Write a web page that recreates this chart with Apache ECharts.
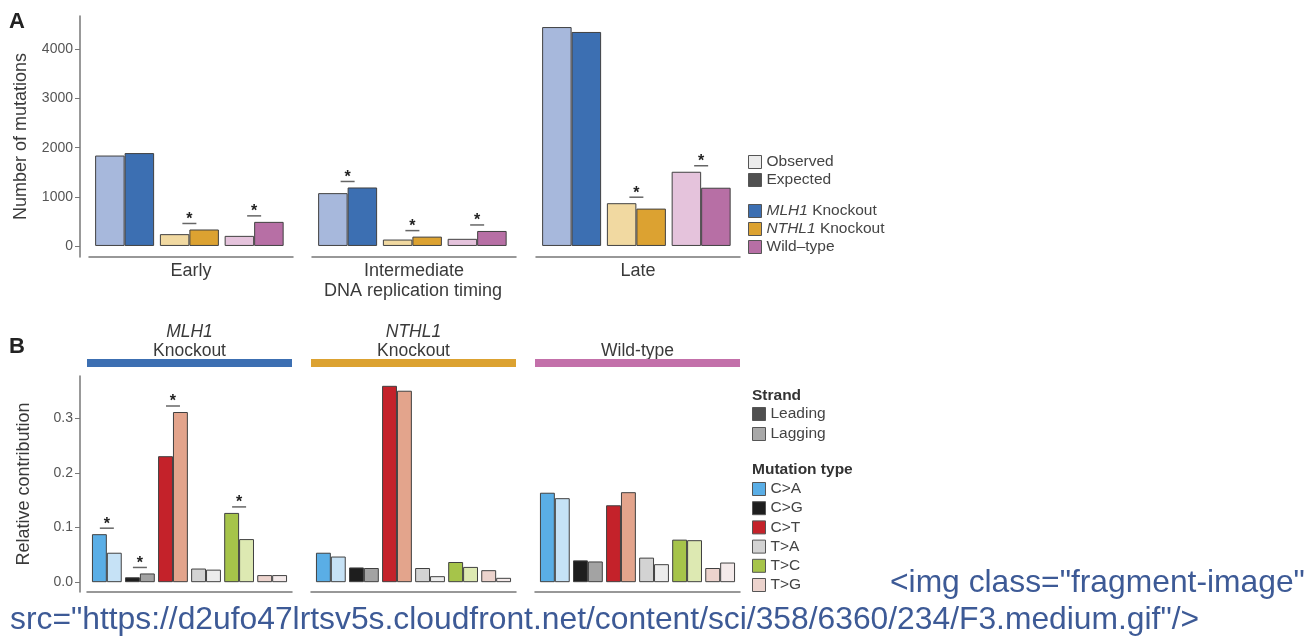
<!DOCTYPE html>
<html>
<head>
<meta charset="utf-8">
<script src="https://cdn.jsdelivr.net/npm/echarts@6/dist/echarts.min.js"></script>
<style>
html,body{margin:0;padding:0;background:#fff}
#main{width:1310px;height:637px}
</style>
</head>
<body>
<div id="main"></div>
<script>
// ---------- panel A : mutations by replication timing ----------
var groupsA = ['MLH1 Knockout', 'NTHL1 Knockout', 'Wild–type'];
var facetsA = ['Early', 'Intermediate', 'Late'];
var observedEarly = [1840, 240, 205];
var expectedEarly = [1890, 335, 490];
var observedInter = [1075, 130, 145];
var expectedInter = [1190, 190, 305];
var observedLate = [4455, 870, 1510];
var expectedLate = [4355, 760, 1185];
var sigEarly = [0, 1, 1];
var sigInter = [1, 1, 1];
var sigLate = [0, 1, 1];
var ticksA = [0, 1000, 2000, 3000, 4000];

// ---------- panel B : strand asymmetry ----------
var mutTypes = ['C>A', 'C>G', 'C>T', 'T>A', 'T>C', 'T>G'];
var leadingMLH1 = [0.088, 0.009, 0.231, 0.025, 0.127, 0.013];
var laggingMLH1 = [0.054, 0.016, 0.312, 0.023, 0.079, 0.013];
var sigMLH1 = [1, 1, 1, 0, 1, 0];
var leadingNTHL1 = [0.054, 0.027, 0.360, 0.026, 0.037, 0.022];
var laggingNTHL1 = [0.047, 0.026, 0.351, 0.011, 0.028, 0.008];
var sigNTHL1 = [0, 0, 0, 0, 0, 0];
var leadingWT = [0.164, 0.040, 0.141, 0.045, 0.078, 0.026];
var laggingWT = [0.154, 0.038, 0.165, 0.033, 0.077, 0.036];
var sigWT = [0, 0, 0, 0, 0, 0];
var ticksB = [0, 0.1, 0.2, 0.3];

// colours
var lightA = ['#a7b8dc', '#f1d9a1', '#e5c3dc'];
var darkA = ['#3c6fb2', '#dca231', '#b76fa5'];
var leadCol = ['#5aaee6', '#1e1e1e', '#c4222a', '#d3d3d3', '#a6c44a', '#ecd3cd'];
var lagCol = ['#c6e2f6', '#a3a3a3', '#e3a48c', '#ececec', '#dde9b2', '#f4eaea'];
var stripCol = ['#3c6fb2', '#dca231', '#c370aa'];

var FONT = '"Liberation Sans", Arial, sans-serif';
var BORDER = '#404040';
var AXIS = '#777';

function barData(vals, cols) {
  var out = [];
  for (var i = 0; i < vals.length; i++) {
    out.push({ value: [i + 1, vals[i]], itemStyle: { color: cols[i] } });
  }
  return out;
}

function starData(a, b, sig) {
  var out = [];
  for (var i = 0; i < sig.length; i++) {
    if (sig[i]) out.push([i + 1, Math.max(a[i], b[i])]);
  }
  return out;
}

// line + asterisk above a pair of bars
function drawStar(params, api) {
  var p = api.coord([api.value(0), api.value(1)]);
  return {
    type: 'group',
    children: [
      { type: 'line', shape: { x1: p[0] - 7, y1: p[1] - 6, x2: p[0] + 7, y2: p[1] - 6 },
        style: { stroke: '#666', lineWidth: 1.5 } },
      { type: 'text', x: p[0], y: p[1] - 10,
        style: { text: '*', fill: '#222', font: 'bold 16px ' + FONT, align: 'center', verticalAlign: 'middle' } }
    ]
  };
}

var gridsA = [89, 312, 536];
var gridsB = [87, 311, 535];
var grid = [];
var xAxis = [];
var yAxis = [];
var series = [];

// panel A grids/axes
var obsA = [observedEarly, observedInter, observedLate];
var expA = [expectedEarly, expectedInter, expectedLate];
var sigA = [sigEarly, sigInter, sigLate];
for (var f = 0; f < 3; f++) {
  grid.push({ left: gridsA[f], top: 16, width: 204, height: 241 });
  xAxis.push({
    type: 'value', gridIndex: f, min: 0.45, max: 3.6, position: 'bottom',
    axisLine: { onZero: false, lineStyle: { color: AXIS, width: 1.5 } },
    axisTick: { show: false }, axisLabel: { show: false }, splitLine: { show: false },
    name: facetsA[f], nameLocation: 'middle', nameGap: 5,
    nameTextStyle: { fontSize: 18, color: '#3a3a3a', fontFamily: FONT }
  });
  yAxis.push({
    type: 'value', gridIndex: f, min: -225, max: 4680, show: f === 0, offset: 9,
    axisLine: { show: true, onZero: false, lineStyle: { color: AXIS, width: 1.5 } },
    axisTick: { show: true, length: 5, customValues: ticksA, lineStyle: { color: AXIS } },
    axisLabel: { customValues: ticksA, fontSize: 14, color: '#555', fontFamily: FONT, margin: 7,
      formatter: function (v) { return String(v); } },
    splitLine: { show: false },
    name: f === 0 ? 'Number of mutations' : '', nameLocation: 'middle', nameGap: 50,
    nameTextStyle: { fontSize: 18, color: '#3a3a3a', fontFamily: FONT }
  });
  series.push({
    type: 'bar', name: 'Observed', xAxisIndex: f, yAxisIndex: f,
    barWidth: 29.5, barGap: '0%', data: barData(obsA[f], lightA),
    itemStyle: { borderColor: BORDER, borderWidth: 1 }
  });
  series.push({
    type: 'bar', name: 'Expected', xAxisIndex: f, yAxisIndex: f,
    barWidth: 29.5, barGap: '0%', data: barData(expA[f], darkA),
    itemStyle: { borderColor: BORDER, borderWidth: 1 }
  });
  series.push({
    type: 'custom', xAxisIndex: f, yAxisIndex: f, renderItem: drawStar,
    data: starData(obsA[f], expA[f], sigA[f])
  });
}

// panel B grids/axes
var leadB = [leadingMLH1, leadingNTHL1, leadingWT];
var lagB = [laggingMLH1, laggingNTHL1, laggingWT];
var sigB = [sigMLH1, sigNTHL1, sigWT];
var stripNames = ['{i|MLH1}\nKnockout', '{i|NTHL1}\nKnockout', 'Wild-type'];
for (var g = 0; g < 3; g++) {
  var gi = g + 3;
  grid.push({ left: gridsB[g], top: 376, width: 205, height: 216 });
  xAxis.push({
    type: 'value', gridIndex: gi, min: 0.4, max: 6.6, position: 'bottom',
    axisLine: { onZero: false, lineStyle: { color: AXIS, width: 1.5 } },
    axisTick: { show: false }, axisLabel: { show: false }, splitLine: { show: false }
  });
  yAxis.push({
    type: 'value', gridIndex: gi, min: -0.018, max: 0.378, show: g === 0, offset: 7,
    axisLine: { show: true, onZero: false, lineStyle: { color: AXIS, width: 1.5 } },
    axisTick: { show: true, length: 5, customValues: ticksB, lineStyle: { color: AXIS } },
    axisLabel: { customValues: ticksB, fontSize: 14, color: '#555', fontFamily: FONT, margin: 7,
      formatter: function (v) { return v.toFixed(1); } },
    splitLine: { show: false },
    name: g === 0 ? 'Relative contribution' : '', nameLocation: 'middle', nameGap: 47,
    nameTextStyle: { fontSize: 18, color: '#3a3a3a', fontFamily: FONT }
  });
  series.push({
    type: 'bar', name: 'Leading', xAxisIndex: gi, yAxisIndex: gi,
    barWidth: 14.9, barGap: '0%', data: barData(leadB[g], leadCol),
    itemStyle: { borderColor: BORDER, borderWidth: 1 }
  });
  series.push({
    type: 'bar', name: 'Lagging', xAxisIndex: gi, yAxisIndex: gi,
    barWidth: 14.9, barGap: '0%', data: barData(lagB[g], lagCol),
    itemStyle: { borderColor: BORDER, borderWidth: 1 }
  });
  series.push({
    type: 'custom', xAxisIndex: gi, yAxisIndex: gi, renderItem: drawStar,
    data: starData(leadB[g], lagB[g], sigB[g])
  });
}
// coloured facet strips on top of panel B
for (var s = 0; s < 3; s++) {
  xAxis.push({
    type: 'value', gridIndex: s + 3, min: 0.4, max: 6.6, position: 'top', offset: 13,
    axisLine: { onZero: false, lineStyle: { color: stripCol[s], width: 8, cap: 'butt' } },
    axisTick: { show: false }, axisLabel: { show: false }, splitLine: { show: false },
    name: stripNames[s], nameLocation: 'middle', nameGap: 2,
    nameTextStyle: { fontSize: 17.5, color: '#3a3a3a', fontFamily: FONT, lineHeight: 19,
      rich: { i: { fontStyle: 'italic', fontSize: 17.5, lineHeight: 19, color: '#3a3a3a', fontFamily: FONT } } }
  });
}

// empty series that only feed the legends
var legendOnly = groupsA.concat(mutTypes);
for (var k = 0; k < legendOnly.length; k++) {
  series.push({ type: 'scatter', name: legendOnly[k], xAxisIndex: 0, yAxisIndex: 0, data: [],
    itemStyle: { opacity: 1 } });
}

function legendItem(name, color) {
  return { name: name, itemStyle: { color: color, borderColor: '#555', borderWidth: 1, opacity: 1 } };
}
var legendText = { fontSize: 15.5, color: '#444', fontFamily: FONT, lineHeight: 15,
  rich: { i: { fontStyle: 'italic', fontSize: 15.5, color: '#444', fontFamily: FONT, lineHeight: 15 } } };
function legendFmt(name) {
  var p = name.split(' ');
  if (p[0] === 'MLH1' || p[0] === 'NTHL1') return '{i|' + p[0] + '} ' + p.slice(1).join(' ');
  return name;
}
var legendBase = { orient: 'vertical', icon: 'rect', itemWidth: 13, itemHeight: 13,
  selectedMode: false, padding: 0, textStyle: legendText, formatter: legendFmt };

var legend = [
  Object.assign({}, legendBase, { left: 748, top: 154, itemGap: 2,
    data: [legendItem('Observed', '#ececec'), legendItem('Expected', '#505050')] }),
  Object.assign({}, legendBase, { left: 748, top: 203, itemGap: 2,
    data: groupsA.map(function (n, i) { return legendItem(n, darkA[i]); }) }),
  Object.assign({}, legendBase, { left: 752, top: 406, itemGap: 4,
    data: [legendItem('Leading', '#4f4f4f'), legendItem('Lagging', '#a8a8a8')] }),
  Object.assign({}, legendBase, { left: 752, top: 481, itemGap: 3.2,
    data: mutTypes.map(function (n, i) { return legendItem(n, leadCol[i]); }) })
];

var title = [
  { text: 'A', left: 9, top: 11, padding: 0, textStyle: { fontSize: 22, fontWeight: 'bold', color: '#222', fontFamily: FONT } },
  { text: 'B', left: 9, top: 336, padding: 0, textStyle: { fontSize: 22, fontWeight: 'bold', color: '#222', fontFamily: FONT } },
  { text: 'DNA replication timing', left: 413, top: 282, padding: 0, textAlign: 'center',
    textStyle: { fontSize: 18, fontWeight: 'normal', color: '#3a3a3a', fontFamily: FONT } },
  { text: 'Strand', left: 752, top: 388, padding: 0, textStyle: { fontSize: 15.5, fontWeight: 'bold', color: '#333', fontFamily: FONT } },
  { text: 'Mutation type', left: 752, top: 462, padding: 0, textStyle: { fontSize: 15.5, fontWeight: 'bold', color: '#333', fontFamily: FONT } },
  { text: '<img class="fragment-image"', left: 890, top: 567, padding: 0,
    textStyle: { fontSize: 31.8, fontWeight: 'normal', color: '#3d5a96', fontFamily: FONT } },
  { text: 'src="https://d2ufo47lrtsv5s.cloudfront.net/content/sci/358/6360/234/F3.medium.gif"/>', left: 10, top: 604, padding: 0,
    textStyle: { fontSize: 31.8, fontWeight: 'normal', color: '#3d5a96', fontFamily: FONT } }
];

var myChart = echarts.init(document.getElementById('main'));
myChart.setOption({
  animation: false,
  backgroundColor: '#fff',
  textStyle: { fontFamily: FONT },
  title: title,
  legend: legend,
  grid: grid,
  xAxis: xAxis,
  yAxis: yAxis,
  series: series
});
</script>
</body>
</html>
